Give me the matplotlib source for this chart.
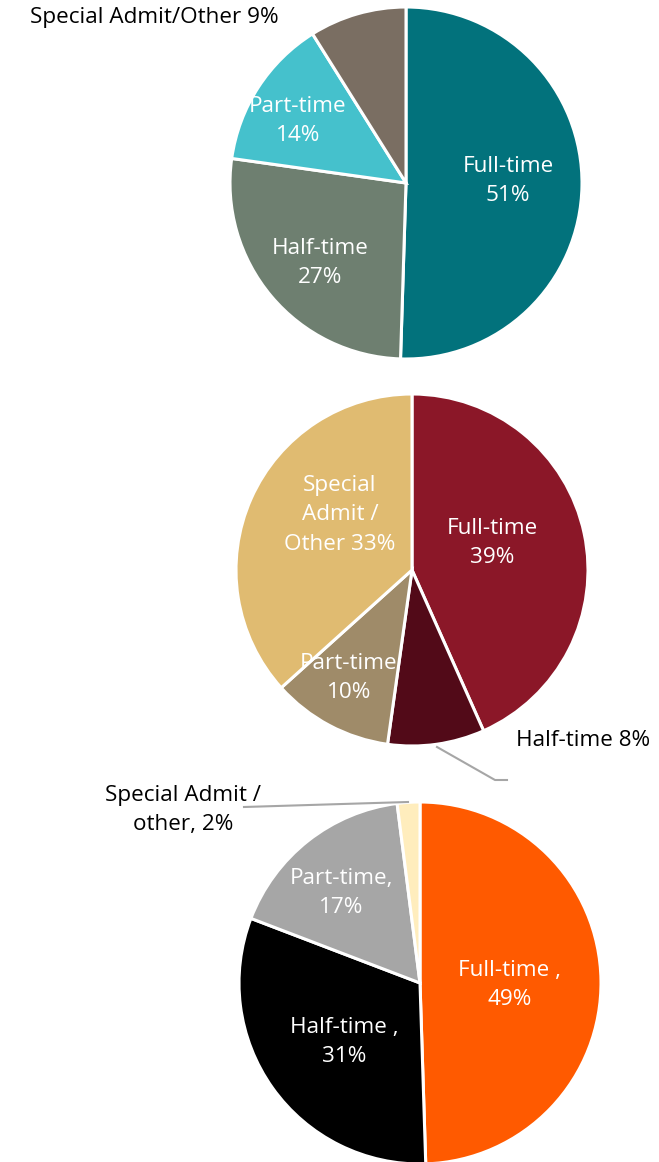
import matplotlib
matplotlib.use("Agg")
import matplotlib.pyplot as plt

W, H = 659, 1162

# ---- data ----
cats1 = ["Full-time", "Half-time", "Part-time", "Special Admit/Other"]
vals1 = [51, 27, 14, 9]
labels1 = ["Full-time\n51%", "Half-time\n27%", "Part-time\n14%", "Special Admit/Other 9%"]

cats2 = ["Full-time", "Half-time", "Part-time", "Special Admit / Other"]
vals2 = [39, 8, 10, 33]
labels2 = ["Full-time\n39%", "Half-time 8%", "Part-time\n10%", "Special\nAdmit /\nOther 33%"]

cats3 = ["Full-time", "Half-time", "Part-time", "Special Admit / other"]
vals3 = [49, 31, 17, 2]
labels3 = ["Full-time ,\n49%", "Half-time ,\n31%", "Part-time,\n17%", "Special Admit /\nother, 2%"]

colors1 = ["#02727C", "#6E7F70", "#45C1CC", "#7A6E62"]
colors2 = ["#8B1728", "#520A18", "#9F8B69", "#E0BB71"]
colors3 = ["#FF5A00", "#000000", "#A6A6A6", "#FFEDBD"]

plt.rcParams['font.family'] = ['Open Sans', 'DejaVu Sans']

fig = plt.figure(figsize=(W / 100, H / 100), dpi=100)
ax = fig.add_axes([0, 0, 1, 1])
ax.set_xlim(0, W)
ax.set_ylim(0, H)
ax.set_aspect('equal')
ax.axis('off')

def Y(y):
    return H - y

wp = dict(edgecolor='white', linewidth=2.2)
FS = 16.2

def draw_pie(vals, colors, cx, cy, r):
    ax.pie(vals, colors=colors, startangle=90, counterclock=False,
           center=(cx, Y(cy)), radius=r, wedgeprops=wp, frame=True)

draw_pie(vals1, colors1, 406, 183, 176)
draw_pie(vals2, colors2, 412, 570, 176)
draw_pie(vals3, colors3, 420, 983, 181)

ax.set_xlim(0, W)
ax.set_ylim(0, H)
ax.axis('off')

def lab(x, y, s, color='white', ha='center'):
    ax.text(x, Y(y), s, color=color, ha=ha, va='center', fontsize=FS,
            linespacing=1.55)

# pie 1
lab(508, 181, labels1[0])
lab(320, 263, labels1[1])
lab(298, 121, labels1[2])
lab(30, 18, labels1[3], color='black', ha='left')

# pie 2
lab(492, 543, labels2[0])
lab(516, 740, labels2[1], color='black', ha='left')
lab(349, 678, labels2[2])
lab(340, 515, labels2[3])
ax.plot([437, 495, 507], [Y(747), Y(780), Y(780)], color='#A6A6A6', lw=1.5)

# pie 3
lab(510, 985, labels3[0])
lab(344, 1042, labels3[1])
lab(341, 893, labels3[2])
lab(183, 810, labels3[3], color='black')
ax.plot([244, 408], [Y(807), Y(802)], color='#A6A6A6', lw=1.5)

fig.savefig("out.png", dpi=100)
